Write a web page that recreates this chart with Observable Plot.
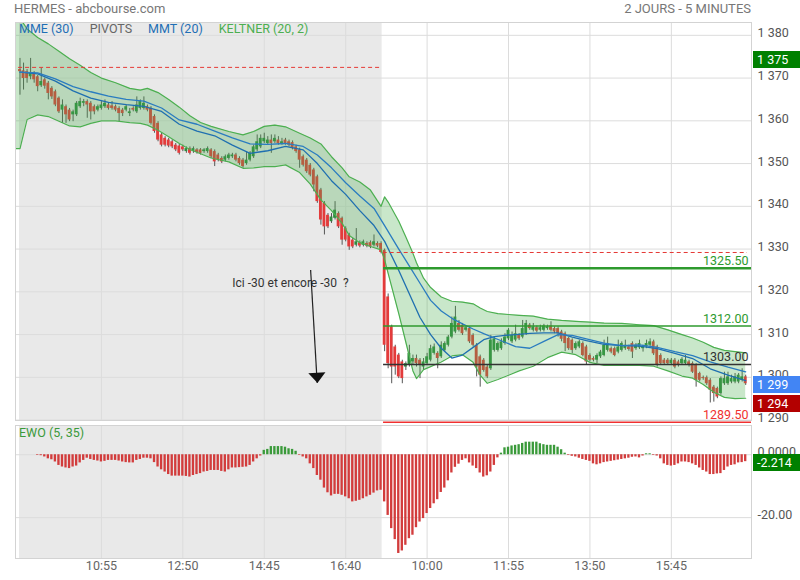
<!DOCTYPE html>
<html><head><meta charset="utf-8">
<script src="https://cdn.jsdelivr.net/npm/d3@7"></script>
<script src="https://cdn.jsdelivr.net/npm/@observablehq/plot@0.6"></script>
<style>
html,body{margin:0;padding:0;background:#fff;overflow:hidden;}
#wrap{position:relative;width:800px;height:580px;font-family:Roboto,"Noto Sans",sans-serif;}
.abs{position:absolute;white-space:pre;}
.badge{position:absolute;left:753px;width:47px;height:17px;line-height:17px;color:#fff;font-size:12.5px;padding-left:4px;box-sizing:border-box;}
.plotbox{position:absolute;left:0;}
</style></head><body><div id="wrap"></div>
<script>
// ---------- DATA ----------
const openP = [
1372.0,1371.7,1371.5,1370.3,1371.1,1370.3,1368.2,1369.6,1368.8,1367.6,
1366.8,1365.3,1362.5,1363.3,1362.5,1361.4,1361.4,1363.3,1364.1,1364.5,
1364.1,1363.3,1362.5,1362.9,1363.3,1363.7,1363.5,1363.3,1362.9,1362.5,
1362.5,1361.7,1362.9,1362.1,1362.9,1362.9,1363.3,1362.9,1361.0,1359.4,
1356.7,1355.9,1355.5,1355.1,1354.3,1354.1,1353.9,1352.8,1353.5,1352.8,
1353.2,1353.2,1352.8,1352.8,1353.2,1352.8,1352.0,1351.2,1350.8,1351.2,
1351.6,1352.0,1351.2,1350.8,1350.0,1350.8,1351.6,1353.2,1353.9,1355.1,
1354.7,1355.5,1355.1,1355.5,1354.7,1355.5,1355.1,1354.9,1353.9,1353.2,
1351.6,1350.8,1349.6,1348.5,1346.9,1343.8,1340.7,1337.9,1336.4,1337.2,
1338.3,1337.2,1334.8,1333.3,1332.1,1330.9,1331.5,1330.9,1331.3,1331.5,
1330.9,1331.3,1331.3,
1329.7,1318.8,1311.8,1307.1,1305.2,1303.6,1302.4,
1302.8,1303.6,1304.4,1304.0,1302.4,1303.2,1304.0,1305.6,1305.6,1304.8,
1306.3,1307.5,1309.4,1310.6,1312.6,1312.2,1311.0,1311.4,1309.8,1307.5,
1304.8,1304.0,1302.4,1302.0,1306.3,1306.3,1306.7,1307.9,1309.0,1308.3,
1308.7,1309.8,1309.4,1310.2,1312.2,1311.0,1311.6,1311.0,1311.0,1311.4,
1312.0,1311.4,1311.4,1310.6,1310.2,1309.1,1308.7,1306.7,1307.1,1307.9,
1307.1,1305.1,1304.4,1304.0,1304.8,1305.1,1306.3,1306.7,1306.7,1305.9,
1306.3,1306.7,1307.1,1307.9,1306.7,1306.9,1306.7,1307.1,1307.5,1308.3,
1307.1,1305.1,1304.0,1304.0,1303.2,1304.0,1303.6,1303.2,1303.2,1303.6,
1303.2,1302.8,1300.9,1299.9,1299.9,1299.3,1297.7,1297.4,1296.2,1298.5,
1298.5,1298.9,1298.9,1298.9,1299.3,1300.1];
const highP = [
1374.6,1373.5,1372.0,1374.6,1371.5,1370.6,1372.3,1370.0,1369.2,1368.0,
1367.2,1365.6,1364.9,1363.7,1362.9,1362.5,1364.5,1365.3,1365.0,1364.9,
1364.5,1363.7,1363.7,1364.5,1364.9,1364.1,1364.5,1363.7,1363.3,1362.9,
1363.7,1362.9,1363.3,1365.6,1364.9,1365.6,1363.7,1363.3,1361.4,1359.8,
1357.1,1356.3,1355.9,1355.5,1354.7,1354.5,1354.3,1353.9,1353.9,1353.9,
1353.5,1353.5,1353.5,1353.9,1353.5,1353.2,1352.4,1351.6,1352.0,1352.4,
1352.4,1352.4,1351.6,1351.2,1352.8,1352.8,1354.3,1356.7,1356.7,1357.1,
1356.3,1356.7,1356.7,1356.3,1355.9,1355.9,1355.5,1355.3,1354.3,1353.6,
1352.0,1351.2,1350.0,1348.9,1347.3,1344.2,1341.1,1338.3,1338.3,1341.1,
1338.7,1337.5,1335.2,1333.7,1332.5,1334.8,1331.9,1332.1,1331.7,1331.9,
1333.3,1331.7,1331.7,
1330.0,1319.5,1312.2,1307.5,1305.6,1304.0,1303.6,
1307.5,1305.2,1305.2,1304.4,1304.4,1305.6,1307.5,1307.8,1306.0,1308.3,
1308.3,1309.8,1314.1,1316.6,1313.3,1312.6,1312.0,1311.8,1310.2,1307.9,
1305.2,1304.4,1302.8,1309.8,1309.4,1308.3,1309.0,1310.2,1311.4,1310.6,
1312.2,1310.2,1313.3,1313.3,1312.6,1312.6,1312.0,1312.2,1312.4,1312.2,
1313.0,1311.8,1311.8,1311.0,1310.6,1309.4,1309.0,1308.3,1308.7,1308.3,
1307.5,1305.5,1304.8,1305.5,1306.3,1308.7,1309.4,1307.1,1307.1,1308.7,
1308.3,1308.7,1307.5,1308.3,1307.9,1308.7,1307.5,1308.7,1309.0,1308.7,
1307.5,1305.5,1304.4,1304.4,1304.4,1304.4,1304.0,1304.6,1305.1,1304.0,
1303.6,1303.2,1301.2,1300.3,1300.3,1299.7,1298.1,1297.7,1300.1,1301.2,
1301.2,1300.5,1300.9,1300.9,1302.0,1300.5];
const lowP = [
1366.0,1367.2,1368.8,1369.6,1368.8,1366.8,1367.8,1367.4,1364.9,1365.0,
1363.3,1361.7,1359.4,1359.4,1359.8,1359.8,1361.0,1362.9,1363.3,1360.6,
1360.2,1361.4,1362.1,1362.5,1362.9,1362.5,1362.5,1362.1,1359.8,1361.0,
1362.1,1361.0,1362.1,1361.7,1362.5,1362.5,1362.1,1359.0,1357.1,1355.1,
1353.9,1353.9,1353.7,1353.5,1352.8,1352.0,1352.8,1352.4,1352.0,1352.4,
1352.2,1352.0,1352.4,1352.4,1351.2,1349.3,1350.4,1350.0,1350.4,1350.8,
1351.2,1350.4,1349.6,1348.9,1349.6,1350.4,1351.2,1352.8,1353.5,1354.7,
1354.3,1352.4,1354.7,1354.3,1354.3,1354.3,1353.9,1353.2,1352.4,1348.9,
1349.2,1347.7,1346.9,1343.4,1340.7,1335.6,1333.3,1334.8,1336.0,1336.8,
1334.8,1330.9,1331.7,1329.7,1330.1,1330.5,1330.3,1330.5,1330.3,1330.1,
1330.5,1330.3,1328.9,
1306.0,1302.0,1298.5,1300.5,1299.7,1298.5,1301.6,
1302.4,1302.8,1302.4,1299.7,1301.6,1302.8,1303.6,1305.2,1302.0,1304.4,
1305.9,1307.1,1309.0,1310.2,1310.6,1309.8,1310.6,1307.9,1307.1,1300.1,
1297.7,1301.2,1299.7,1301.6,1305.9,1305.9,1306.3,1307.5,1308.6,1307.9,
1308.3,1308.6,1309.0,1309.8,1311.0,1310.6,1310.4,1310.6,1310.6,1311.0,
1310.6,1310.2,1309.4,1308.3,1306.0,1306.3,1305.5,1306.3,1306.7,1304.8,
1302.8,1303.6,1303.6,1303.2,1304.4,1304.8,1305.9,1305.5,1304.8,1305.5,
1305.9,1306.3,1306.1,1304.4,1306.3,1306.5,1305.9,1306.7,1307.1,1305.1,
1302.4,1302.8,1302.8,1302.8,1302.8,1302.0,1302.4,1302.8,1302.8,1302.4,
1300.9,1297.7,1298.9,1299.3,1298.1,1294.0,1294.2,1295.0,1295.8,1298.1,
1298.1,1298.5,1298.5,1298.5,1298.9,1298.1];
const closeP = [
1371.5,1369.9,1369.9,1371.1,1369.6,1368.0,1369.2,1368.1,1366.4,1365.6,
1363.7,1362.1,1363.7,1361.4,1360.2,1362.1,1364.1,1364.5,1364.5,1363.7,
1362.1,1362.1,1363.3,1363.7,1364.1,1362.9,1362.9,1362.5,1361.7,1361.7,
1363.3,1362.1,1362.5,1363.7,1364.5,1364.1,1362.5,1359.4,1357.5,1355.5,
1354.3,1354.3,1354.1,1353.9,1353.2,1352.4,1353.2,1353.5,1352.4,1353.5,
1352.6,1352.4,1353.2,1353.5,1351.6,1350.4,1350.8,1350.4,1351.6,1352.0,
1352.0,1350.8,1350.0,1349.3,1350.8,1352.4,1353.9,1355.1,1355.9,1355.9,
1355.5,1354.7,1355.9,1354.7,1355.1,1354.7,1354.3,1353.5,1352.8,1350.8,
1349.6,1348.1,1347.3,1345.0,1341.1,1336.8,1335.2,1335.2,1337.5,1339.1,
1335.2,1332.1,1332.1,1330.5,1330.5,1331.7,1330.7,1331.7,1330.7,1330.5,
1331.7,1330.7,1329.2,
1307.5,1303.2,1302.4,1302.4,1300.1,1299.7,1303.2,
1305.6,1304.4,1303.2,1302.8,1303.6,1304.8,1306.7,1307.1,1304.4,1307.5,
1307.9,1309.4,1312.6,1314.1,1311.0,1310.2,1311.6,1308.3,1307.5,1302.4,
1300.5,1301.6,1300.1,1308.7,1309.0,1307.9,1308.3,1309.4,1311.0,1309.8,
1310.2,1309.0,1311.4,1312.6,1311.4,1311.8,1310.8,1311.6,1312.0,1311.8,
1311.0,1310.6,1310.2,1308.9,1307.9,1306.7,1306.3,1307.9,1308.3,1305.1,
1303.6,1304.0,1304.0,1305.1,1305.9,1307.5,1307.9,1305.9,1305.1,1307.1,
1307.9,1307.5,1306.5,1305.9,1307.5,1307.9,1307.1,1307.9,1308.3,1305.5,
1302.8,1303.2,1303.2,1303.2,1304.0,1302.4,1302.8,1304.2,1304.0,1302.8,
1301.2,1299.3,1299.3,1299.7,1298.5,1297.0,1296.2,1295.4,1299.7,1299.7,
1300.1,1299.7,1300.1,1300.5,1300.1,1298.5];

// Keltner (20, 2) band, read at sample bars
const bandIdx = [-1.27,0,2,5,8,11,14,17,20,23,27,31,34,36,39,42,45,48,51,54,59,63,66,69,72,75,79,82,85,88,91,93,96,99,102,103,104,107,109,111,112,114,116,119,122,125,128,130,132,135,138,141,145,149,153,157,161,165,170,175,179,183,187,190,193,196,199,202,205];
const bandUp = [1385,1384,1381.5,1379.5,1378.0,1376.3,1374.5,1373.0,1371.3,1370.0,1368.9,1367.6,1367.2,1367.6,1366.6,1365.0,1363.2,1361.2,1359.6,1358.7,1357.5,1356.7,1357.5,1358.7,1359.0,1358.6,1357.1,1356.0,1354.6,1351.6,1349.0,1346.9,1345.7,1343.8,1340.0,1342.2,1341.0,1336.5,1332.8,1329.0,1326.8,1323.2,1321.0,1318.8,1317.8,1317.6,1317.2,1316.2,1315.4,1314.9,1314.7,1314.5,1314.3,1313.6,1313.3,1313.1,1312.9,1312.7,1312.6,1312.3,1312.1,1311.1,1310.0,1309.2,1308.2,1307.0,1306.3,1306.0,1305.7];
const bandLo = [1353.5,1353.5,1360.3,1361.4,1361.0,1359.9,1358.8,1358.6,1359.4,1360.0,1360.0,1359.6,1359.4,1359.0,1357.8,1356.3,1354.7,1353.3,1352.3,1351.3,1350.4,1348.9,1349.0,1349.3,1349.3,1349.7,1347.9,1345.2,1341.5,1339.0,1336.0,1333.2,1331.5,1330.6,1329.8,1327.5,1324.3,1314.9,1308.2,1301.5,1299.7,1301.8,1302.5,1303.6,1305.0,1305.3,1303.5,1300.5,1298.6,1299.5,1300.5,1301.5,1302.6,1304.6,1305.9,1305.3,1303.5,1302.8,1302.8,1302.8,1302.6,1301.5,1300.3,1299.8,1298.3,1296.5,1295.3,1295.0,1295.1];

// moving averages, read at sample bars
const maIdx = [0,5,10,15,20,25,30,35,40,45,50,55,60,65,70,75,80,84,88,92,96,100,103,107,110,113,116,119,122,125,128,131,134,137,140,144,148,152,156,160,165,170,175,180,185,190,195,200,205];
const mmeLine = [1371.4,1371.0,1369.3,1367.0,1365.3,1364.3,1363.8,1363.4,1362.2,1359.2,1357.6,1356.5,1354.3,1352.4,1353.0,1354.0,1353.2,1350.0,1346.0,1342.8,1339.0,1335.5,1331.8,1325.0,1319.5,1314.0,1310.0,1306.8,1304.5,1305.2,1307.0,1308.8,1309.5,1309.8,1310.0,1310.3,1310.4,1310.4,1309.4,1308.6,1307.7,1307.4,1307.3,1306.7,1305.6,1304.4,1302.0,1300.5,1299.2];
const mmtLine = [1371.4,1371.2,1369.8,1368.0,1366.8,1365.8,1365.0,1364.6,1363.0,1360.2,1359.2,1357.6,1356.0,1354.6,1354.5,1354.7,1354.0,1352.0,1349.0,1345.5,1342.4,1339.5,1335.5,1330.0,1326.0,1322.0,1318.0,1315.5,1313.8,1312.5,1311.3,1310.2,1309.2,1308.2,1307.2,1306.8,1308.4,1310.0,1309.8,1309.0,1308.0,1307.4,1307.6,1307.0,1306.0,1305.1,1303.6,1302.4,1301.3];

// EWO (5, 35)
const ewoVals = [
null,null,null,null,null,-0.2,-0.3,-0.7,-1.3,-1.6,
-2.3,-3.4,-3.9,-4.2,-4.4,-3.9,-3.6,-2.6,-1.8,-1.1,
-1.5,-1.8,-2.0,-2.3,-2.1,-1.8,-1.8,-1.8,-2.0,-2.3,
-2.5,-2.6,-2.6,-1.8,-1.5,-1.1,-1.1,-1.3,-2.5,-3.9,
-4.8,-5.5,-6.3,-6.8,-6.8,-6.8,-6.8,-6.9,-7.1,-6.6,
-6.3,-6.0,-5.5,-5.3,-5.0,-5.0,-5.0,-5.3,-5.5,-4.8,
-4.2,-4.2,-4.1,-4.0,-3.9,-3.4,-2.3,-1.3,-0.4,1.4,
1.7,2.6,2.6,2.6,2.6,2.4,1.9,1.7,1.1,-0.2,
-0.7,-1.3,-2.9,-4.4,-6.6,-8.1,-10.6,-12.1,-13.1,-12.6,
-12.6,-12.9,-13.4,-14.0,-15.0,-14.8,-14.5,-14.0,-13.4,-12.9,
-12.2,-11.5,-11.3,-15.0,-19.3,-23.5,-27.0,-31.4,-30.6,-28.8,
-26.7,-25.6,-23.2,-21.4,-20.3,-18.7,-17.1,-15.6,-14.3,-12.0,
-10.6,-8.3,-5.8,-4.0,-3.0,-1.8,-1.3,-2.6,-3.6,-4.4,
-5.8,-7.1,-6.7,-5.5,-3.4,-1.0,0.5,2.2,2.4,2.8,
3.0,3.2,3.6,4.0,4.0,4.0,4.0,3.5,3.2,3.0,
3.0,3.0,2.4,1.6,0.5,-0.2,-0.5,-0.7,-1.1,-1.5,
-1.8,-2.1,-2.9,-3.2,-2.9,-2.5,-2.3,-2.1,-1.9,-1.7,
-1.5,-1.3,-1.1,-0.8,-0.7,-1.0,-0.4,0.3,0.3,-0.2,
-0.4,-1.3,-2.9,-3.4,-3.6,-3.4,-2.9,-2.3,-2.3,-2.5,
-2.9,-3.4,-4.2,-5.0,-5.5,-6.3,-6.3,-6.1,-6.0,-5.0,
-3.9,-3.4,-3.2,-2.6,-2.5,-2.2];

// axes / labels
const timeTickIdx = [23, 46, 69, 92, 115, 138, 161, 184];
const timeLabels = ["10:55","12:50","14:45","16:40","10:00","11:55","13:50","15:45"];
const priceTicks = [1290,1300,1310,1320,1330,1340,1350,1360,1370,1380];
const ewoTicks = [0, -20];
const ewoTickLabels = ["0.0000", "-20.00"];
const dayShade = [{from: -0.14, to: 102.3}];
const prevClose = [{v: 1372.5, from: -0.4, to: 102.3}, {v: 1329.2, from: 102.6, to: 205.5}];
const pivotFrom = 102.7;
const pivots = [
  {v: 1325.5, label: "1325.50", color: "#2e9a2e", w: 2.4},
  {v: 1312.0, label: "1312.00", color: "#2e9a2e", w: 1.3},
  {v: 1303.0, label: "1303.00", color: "#333333", w: 1.3},
  {v: 1289.5, label: "1289.50", color: "#f03030", w: 1.6}];
const mainBadges = [
  {v: 1374.2, label: "1 375", bg: "#008000"},
  {v: 1298.2, label: "1 299", bg: "#4285f4"},
  {v: 1293.8, label: "1 294", bg: "#b30000"}];
const ewoBadge = {v: -2.214, label: "-2.214", bg: "#008000"};
const legendItems = [
  {text: "MME (30)", color: "#1f6fb5"},
  {text: "PIVOTS", color: "#666666"},
  {text: "MMT (20)", color: "#1f6fb5"},
  {text: "KELTNER (20, 2)", color: "#4caf50"}];
const note = {i: 76.4, v: 1322.1, text: "Ici -30 et encore -30  ?"};
const arrowSeg = {i1: 82.1, v1: 1325.1, i2: 83.95, v2: 1298.7};

// ---------- BUILD ----------
const wrap = document.getElementById("wrap");
const fmtK = v => d3.format(",")(v).replace(/,/g, " ");
const bars = closeP.map((c, i) => ({i, o: openP[i], h: highP[i], l: lowP[i], c}));
const band = bandIdx.map((i, k) => ({i, up: bandUp[k], lo: bandLo[k]}));
const ma = maIdx.map((i, k) => ({i, a: mmeLine[k], b: mmtLine[k]}));
const ewoData = ewoVals.map((v, i) => ({i, v})).filter(d => d.v != null);
const timeData = timeTickIdx.map((i, k) => ({i, label: timeLabels[k]}));
const ewoTickData = ewoTicks.map((v, k) => ({v, label: ewoTickLabels[k]}));

const xDomain = [-1.27, 206.64];
const yDomain = [1289.9, 1383.0];
const ewoDomain = [-33.0, 9.3];
const GREEN = "#2e8b3e", RED = "#e33b3b", GRID = "#dcdcdc", FRAME = "#d3d3d3";
const baseStyle = {background: "transparent", fontFamily: "Roboto, sans-serif", fontSize: "12.5px", overflow: "visible"};

const arrowHead = {draw(ctx, size) {
  const r = Math.sqrt(size / Math.PI);
  ctx.moveTo(-r * 1.5, -r * 0.9); ctx.lineTo(r * 1.5, -r * 0.9); ctx.lineTo(0, r * 0.9); ctx.closePath();
}};

const mainPlot = Plot.plot({
  width: 800, height: 423, marginTop: 22, marginBottom: 3, marginLeft: 15, marginRight: 49,
  x: {domain: xDomain, axis: null},
  y: {domain: yDomain, axis: null},
  color: {type: "identity"},
  style: baseStyle,
  marks: [
    Plot.rect(dayShade, {x1: "from", x2: "to", fill: "#e9e9e9"}),
    Plot.ruleY(priceTicks, {stroke: GRID}),
    Plot.ruleX(timeTickIdx, {stroke: GRID}),
    Plot.ruleX(bars, {x: "i", y1: "l", y2: "h", stroke: "#555", strokeWidth: 1}),
    Plot.rect(bars, {x1: d => d.i - 0.4, x2: d => d.i + 0.4,
      y1: d => Math.min(d.o, d.c), y2: d => Math.max(Math.max(d.o, d.c), Math.min(d.o, d.c) + 0.25),
      fill: d => d.c >= d.o ? GREEN : RED}),
    Plot.areaY(band, {x: "i", y1: "lo", y2: "up", fill: "#4caf50", fillOpacity: 0.3, clip: true}),
    Plot.line(band, {x: "i", y: "up", stroke: "#4caf50", strokeWidth: 1.2, clip: true}),
    Plot.line(band, {x: "i", y: "lo", stroke: "#4caf50", strokeWidth: 1.2, clip: true}),
    Plot.line(ma, {x: "i", y: "a", stroke: "#1f6fb0", strokeWidth: 1.3}),
    Plot.line(ma, {x: "i", y: "b", stroke: "#2a7cc0", strokeWidth: 1.3}),
    Plot.ruleY(prevClose, {y: "v", x1: "from", x2: "to", stroke: "#e53935", strokeDasharray: "4,3", strokeWidth: 1}),
    ...pivots.map(p => Plot.ruleY([p], {y: "v", x1: pivotFrom, x2: xDomain[1], stroke: p.color, strokeWidth: p.w})),
    Plot.text(pivots, {x: xDomain[1], y: "v", text: "label", fill: d => d.color, textAnchor: "end", dx: -3, dy: -7, fontSize: 12.5}),
    Plot.text(priceTicks, {y: d => d, text: d => fmtK(d), frameAnchor: "right", textAnchor: "start", dx: 6, dy: -2, fill: "#555", fontSize: 12.5}),
    Plot.text([note], {x: "i", y: "v", text: "text", fill: "#333", fontSize: 12}),
    Plot.link([arrowSeg], {x1: "i1", y1: "v1", x2: "i2", y2: "v2", stroke: "#222", strokeWidth: 1.2}),
    Plot.dot([arrowSeg], {x: "i2", y: "v2", symbol: arrowHead, r: 5.7, fill: "#111", stroke: "none", dy: -5, rotate: -3.4}),
    Plot.frame({stroke: FRAME})
  ]
});

const ewoPlot = Plot.plot({
  width: 800, height: 157, marginTop: 2, marginBottom: 22, marginLeft: 15, marginRight: 49,
  x: {domain: xDomain, axis: null},
  y: {domain: ewoDomain, axis: null},
  color: {type: "identity"},
  style: baseStyle,
  marks: [
    Plot.rect(dayShade, {x1: "from", x2: "to", fill: "#e9e9e9"}),
    Plot.ruleY(ewoTicks, {stroke: GRID}),
    Plot.ruleX(timeTickIdx, {stroke: GRID}),
    Plot.rect(ewoData, {x1: d => d.i - 0.33, x2: d => d.i + 0.33, y1: 0, y2: "v",
      fill: d => d.v >= 0 ? "#3a9a3a" : "#d23c3c"}),
    Plot.text(ewoTickData, {y: "v", text: "label", frameAnchor: "right", textAnchor: "start", dx: 6, dy: -3, fill: "#555", fontSize: 12.5}),
    Plot.text(timeData, {x: "i", text: "label", frameAnchor: "bottom", dy: 11, fill: "#666", fontSize: 12.5}),
    Plot.frame({stroke: FRAME})
  ]
});

function addDiv(cls, css, text) {
  const d = document.createElement("div");
  d.className = cls; d.style.cssText = css; d.textContent = text;
  wrap.appendChild(d); return d;
}
const mainBox = document.createElement("div"); mainBox.className = "plotbox"; mainBox.style.top = "0px";
mainBox.appendChild(mainPlot); wrap.appendChild(mainBox);
const ewoBox = document.createElement("div"); ewoBox.className = "plotbox"; ewoBox.style.top = "423px";
ewoBox.appendChild(ewoPlot); wrap.appendChild(ewoBox);

// titles
addDiv("abs", "left:14px;top:0px;line-height:17px;font-size:13px;color:#777;", "HERMES - abcbourse.com");
addDiv("abs", "right:49px;top:0px;line-height:17px;font-size:13px;color:#777;", "2 JOURS - 5 MINUTES");
// legend
const leg = addDiv("abs", "left:19px;top:21px;line-height:16px;font-size:12.5px;", "");
legendItems.forEach(it => {
  const s = document.createElement("span");
  s.textContent = it.text; s.style.color = it.color; s.style.marginRight = "16px";
  leg.appendChild(s);
});
addDiv("abs", "left:19px;top:425px;line-height:16px;font-size:12.5px;color:#3a9a3a;", "EWO (5, 35)");

// badges positioned through the plots' scales
const yMain = d3.scaleLinear(yDomain, [420, 22]);
const yEwo = d3.scaleLinear(ewoDomain, [423 + 135, 423 + 2]);
mainBadges.forEach(b => addDiv("badge", `top:${yMain(b.v) - 8.5}px;background:${b.bg};`, b.label));
addDiv("badge", `top:${yEwo(ewoBadge.v) - 7.5}px;background:${ewoBadge.bg};`, ewoBadge.label);
</script></body></html>
